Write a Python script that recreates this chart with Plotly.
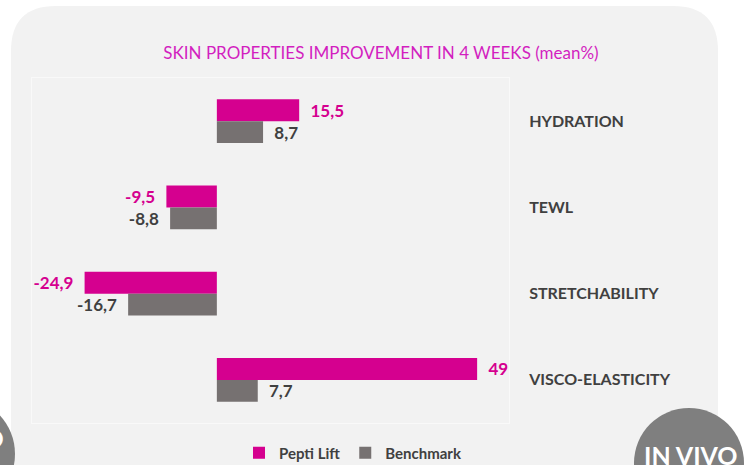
import plotly.graph_objects as go

categories = ["HYDRATION", "TEWL", "STRETCHABILITY", "VISCO-ELASTICITY"]
pepti_lift = [15.5, -9.5, -24.9, 49]
benchmark = [8.7, -8.8, -16.7, 7.7]
series_names = ["Pepti Lift", "Benchmark"]

MAGENTA = "#d5008f"
GRAY = "#767171"
DARK = "#404040"
FONT = "Lato"

W, H = 750, 465
ML, MR, MT, MB = 32, 241, 78, 42
PW, PH = W - ML - MR, H - MT - MB
XMIN, XMAX = -34.8, 55


def px(x):
    return (x - ML) / PW


def py(y):
    return (H - MB - y) / PH


def fmt(v):
    s = f"{v:g}".replace(".", ",")
    pad = "\u00a0\u00a0"
    return pad + s if v >= 0 else s + pad


fig = go.Figure()
for name, vals, col, tcol in [(series_names[0], pepti_lift, MAGENTA, MAGENTA),
                              (series_names[1], benchmark, GRAY, DARK)]:
    fig.add_trace(go.Bar(
        name=name, y=categories, x=vals, orientation="h",
        marker=dict(color=col, line=dict(width=0)),
        text=[fmt(v) for v in vals], textposition="outside", cliponaxis=False,
        textfont=dict(family=FONT, size=17, color=tcol, weight="bold"),
        hoverinfo="skip",
    ))

# rounded background panel
x0, x1, y0, y1, r = 11, 718, 6, 490, 45
path = (f"M {px(x0+r)},{py(y0)} L {px(x1-r)},{py(y0)} Q {px(x1)},{py(y0)} {px(x1)},{py(y0+r)} "
        f"L {px(x1)},{py(y1-r)} Q {px(x1)},{py(y1)} {px(x1-r)},{py(y1)} "
        f"L {px(x0+r)},{py(y1)} Q {px(x0)},{py(y1)} {px(x0)},{py(y1-r)} "
        f"L {px(x0)},{py(y0+r)} Q {px(x0)},{py(y0)} {px(x0+r)},{py(y0)} Z")
shapes = [
    dict(type="path", path=path, xref="paper", yref="paper", fillcolor="#f2f2f2",
         line=dict(width=0), layer="below"),
    dict(type="circle", xref="paper", yref="paper", x0=px(634), x1=px(744), y0=py(518), y1=py(408),
         fillcolor="#7f7f7f", line=dict(width=0), layer="above"),
    dict(type="circle", xref="paper", yref="paper", x0=px(-95), x1=px(15), y0=py(510), y1=py(398),
         fillcolor="#7f7f7f", line=dict(width=0), layer="above"),
]

annotations = [
    dict(text="IN VIVO", xref="paper", yref="paper", x=px(691), y=py(455), showarrow=False,
         xanchor="center", yanchor="middle",
         font=dict(family=FONT, size=25, color="white", weight="bold")),
    dict(text="IN VITRO", xref="paper", yref="paper", x=px(6), y=py(438), showarrow=False,
         xanchor="right", yanchor="middle",
         font=dict(family=FONT, size=25, color="white", weight="bold")),
]

fig.update_layout(
    width=W, height=H,
    margin=dict(l=ML, r=MR, t=MT, b=MB, autoexpand=False),
    paper_bgcolor="white", plot_bgcolor="rgba(0,0,0,0)",
    barmode="group", bargap=0.49, bargroupgap=0,
    title=dict(text="SKIN PROPERTIES IMPROVEMENT IN 4 WEEKS (mean%)", x=0.508, y=1 - 53 / H,
               xref="container", yref="container", xanchor="center", yanchor="middle",
               font=dict(family=FONT, size=17, color="#d21fc0")),
    xaxis=dict(range=[XMIN, XMAX], showticklabels=False, showgrid=False, zeroline=False,
               showline=True, mirror=True, linecolor="#f9f9f9", linewidth=1, fixedrange=True),
    yaxis=dict(range=[3.5, -0.5], side="right", showgrid=False, zeroline=False, ticks="",
               showline=True, mirror=True, linecolor="#f9f9f9", ticklabelstandoff=16,
               tickfont=dict(family=FONT, size=16, color=DARK, weight="bold")),
    yaxis2=dict(overlaying="y", anchor="free", position=(0 - XMIN) / (XMAX - XMIN), side="left",
                range=[3.5, -0.5], tickvals=[0.5, 1.5, 2.5], ticks="outside", ticklen=6,
                tickcolor="#d9d9d9", showticklabels=False, showgrid=False, zeroline=False,
                showline=True, linecolor="#d9d9d9", linewidth=1.5),
    legend=dict(orientation="h", x=px(353), y=py(453), xanchor="center", yanchor="middle",
                font=dict(family=FONT, size=15, color=DARK, weight="bold"),
                bgcolor="rgba(0,0,0,0)", traceorder="normal", itemwidth=30),
    shapes=shapes, annotations=annotations,
    font=dict(family=FONT),
)

# remove the browser's default 8px page margin so the figure sits at the window's origin
fig.write_html("out.html", config={"displayModeBar": False},
               post_script="document.body.style.margin='0';document.body.style.overflow='hidden';")
